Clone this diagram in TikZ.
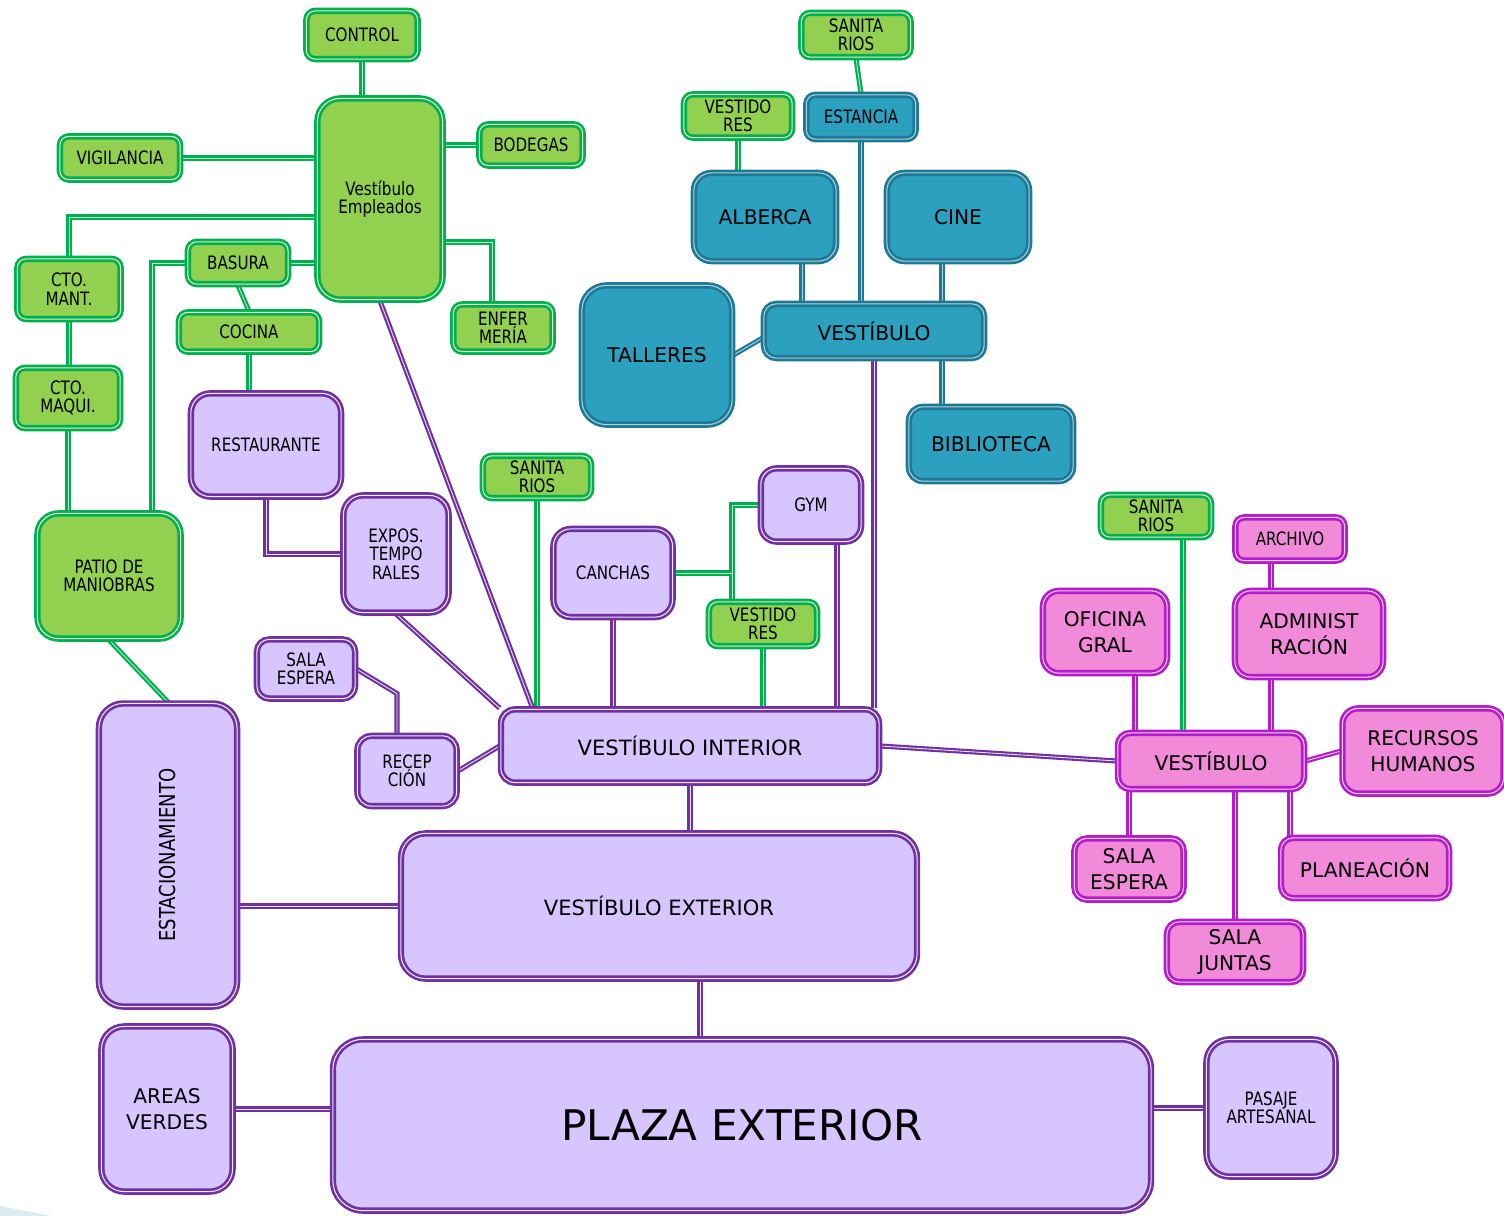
\documentclass[tikz,border=0pt]{standalone}
\usepackage{fontspec}
\setmainfont{DejaVu Sans}
\newfontfamily\narrowfont{DejaVu Sans}[FakeStretch=0.82]
\usepackage{xcolor}
\usetikzlibrary{calc,backgrounds}
\definecolor{grnfill}{HTML}{92D050}
\definecolor{grnline}{HTML}{00B050}
\definecolor{bluefill}{HTML}{2BA1BF}
\definecolor{blueline}{HTML}{217895}
\definecolor{lilfill}{HTML}{D6C5FF}
\definecolor{lilline}{HTML}{7030A0}
\definecolor{pinkfill}{HTML}{F18AD8}
\definecolor{pinkline}{HTML}{B21CCB}
\definecolor{cornerfill}{HTML}{DCEBF0}
\newcommand{\tinylbl}{\narrowfont\fontsize{10.5}{10.5}\selectfont}
\newcommand{\midlbl}{\fontsize{11.5}{15}\selectfont}
\newcommand{\biglbl}{\fontsize{12}{15}\selectfont}
\newcommand{\plazalbl}{\fontsize{24}{28}\selectfont}

\begin{document}
\begin{tikzpicture}[
    x=0.02cm, y=-0.02cm,
    box/.style={rectangle, align=center, inner sep=1pt, line width=1.5pt,
      double distance=0.6pt, rounded corners=5pt, font=\tinylbl, text=black},
    gbox/.style={box, draw=grnline, double=grnfill!30!white, fill=grnfill},
    bbox/.style={box, draw=blueline, double=bluefill!45!white, fill=bluefill, font=\midlbl},
    lbox/.style={box, draw=lilline, double=lilfill!40!white, fill=lilfill},
    pbox/.style={box, draw=pinkline, double=pinkfill!40!white, fill=pinkfill, font=\midlbl},
    sz/.style 2 args={minimum width=#1cm-1pt, minimum height=#2cm-1pt},
    gwire/.style={draw=grnline, double=grnline!30!white, line width=1.2pt, double distance=0.5pt},
    bwire/.style={draw=blueline, double=bluefill!40!white, line width=1.2pt, double distance=0.5pt},
    lwire/.style={draw=lilline, double=lilfill!50!white, line width=1.2pt, double distance=0.5pt},
    pwire/.style={draw=pinkline, double=pinkfill!40!white, line width=1.2pt, double distance=0.5pt},
  ]
  \useasboundingbox (0,0) rectangle (1504,1216);

  % ================= green: service areas
  \node[gbox, sz={2.26}{1.0}] (control) at (362,35) {CONTROL};
  \node[gbox, sz={2.54}{4.06}, rounded corners=13pt] (vemp) at (380,199) {Vestíbulo\\Empleados};
  \node[gbox, sz={2.44}{0.9}] (vigil) at (120,158) {VIGILANCIA};
  \node[gbox, sz={2.1}{0.86}] (bodegas) at (531,145) {BODEGAS};
  \node[gbox, sz={2.1}{1.24}] (ctomant) at (69,289) {CTO.\\MANT.};
  \node[gbox, sz={2.04}{0.88}] (basura) at (238,263) {BASURA};
  \node[gbox, sz={2.84}{0.82}] (cocina) at (249,332) {COCINA};
  \node[gbox, sz={2.02}{0.98}] (enfer) at (503,328) {ENFER\\MERÍA};
  \node[gbox, sz={2.12}{1.24}] (ctomaq) at (68,398) {CTO.\\MAQUI.};
  \node[gbox, sz={2.9}{2.54}, rounded corners=12pt] (patio) at (109,576) {PATIO DE\\MANIOBRAS};
  \node[gbox, sz={2.22}{0.92}] (sanA) at (856,35) {SANITA\\RIOS};
  \node[gbox, sz={2.2}{0.9}] (vestA) at (738,116) {VESTIDO\\RES};
  \node[gbox, sz={2.2}{0.88}] (sanB) at (537,477) {SANITA\\RIOS};
  \node[gbox, sz={2.2}{0.92}] (vestB) at (763,624) {VESTIDO\\RES};
  \node[gbox, sz={2.24}{0.88}] (sanC) at (1156,516) {SANITA\\RIOS};

  % ================= blue: recreation
  \node[bbox, sz={2.22}{0.92}, font=\tinylbl] (estancia) at (861,117) {ESTANCIA};
  \node[bbox, sz={2.88}{1.8}, rounded corners=10pt] (alberca) at (765,217) {ALBERCA};
  \node[bbox, sz={2.88}{1.8}, rounded corners=10pt] (cine) at (958,217) {CINE};
  \node[bbox, sz={3.04}{2.82}, rounded corners=14pt] (talleres) at (657,355) {TALLERES};
  \node[bbox, sz={4.44}{1.12}, rounded corners=7pt] (vestblue) at (874,331) {VESTÍBULO};
  \node[bbox, sz={3.32}{1.52}, rounded corners=8pt] (biblio) at (991,444) {BIBLIOTECA};

  % ================= lilac: public areas
  \node[lbox, sz={3.04}{2.1}, rounded corners=11pt] (rest) at (266,445) {RESTAURANTE};
  \node[lbox, sz={2.14}{2.38}, rounded corners=11pt] (expos) at (396,554) {EXPOS.\\TEMPO\\RALES};
  \node[lbox, sz={2.42}{1.8}, rounded corners=10pt] (canchas) at (613,573) {CANCHAS};
  \node[lbox, sz={2.04}{1.5}, rounded corners=9pt] (gym) at (811,505) {GYM};
  \node[lbox, sz={2.0}{1.22}, rounded corners=7pt] (salaA) at (306,669) {SALA\\ESPERA};
  \node[lbox, sz={2.02}{1.44}, rounded corners=8pt] (recep) at (407,771) {RECEP\\CIÓN};
  \node[lbox, sz={7.6}{1.5}, rounded corners=8pt, font=\biglbl] (vint) at (690,746) {VESTÍBULO INTERIOR};
  \node[lbox, sz={2.8}{6.1}, rounded corners=14pt,
    label={[rotate=90, font=\narrowfont\fontsize{12.5}{14}\selectfont]center:ESTACIONAMIENTO}] (estac) at (168,855) {};
  \node[lbox, sz={10.36}{2.94}, rounded corners=14pt, font=\biglbl] (vext) at (659,906) {VESTÍBULO EXTERIOR};
  \node[lbox, sz={2.66}{3.34}, rounded corners=13pt, font=\midlbl] (areas) at (167,1109) {AREAS\\VERDES};
  \node[lbox, sz={16.4}{3.46}, rounded corners=17pt, font=\plazalbl] (plaza) at (742,1125) {PLAZA EXTERIOR};
  \node[lbox, sz={2.62}{2.78}, rounded corners=13pt] (pasaje) at (1271,1108) {PASAJE\\ARTESANAL};

  % ================= pink: administration
  \node[pbox, sz={2.22}{0.9}, font=\tinylbl] (archivo) at (1290,539) {ARCHIVO};
  \node[pbox, sz={2.52}{1.68}, rounded corners=9pt] (oficina) at (1105,632) {OFICINA\\GRAL};
  \node[pbox, sz={3.0}{1.76}, rounded corners=9pt] (admin) at (1309,634) {ADMINIST\\RACIÓN};
  \node[pbox, sz={3.76}{1.16}, rounded corners=7pt] (vestpink) at (1211,761) {VESTÍBULO};
  \node[pbox, sz={3.26}{1.74}, rounded corners=9pt] (recursos) at (1423,751) {RECURSOS\\HUMANOS};
  \node[pbox, sz={2.22}{1.26}, rounded corners=7pt] (salaB) at (1129,869) {SALA\\ESPERA};
  \node[pbox, sz={3.4}{1.24}, rounded corners=7pt] (planea) at (1365,868) {PLANEACIÓN};
  \node[pbox, sz={2.76}{1.24}, rounded corners=7pt] (juntas) at (1235,952) {SALA\\JUNTAS};

  % helper points where a wire leaves off-centre
  \coordinate (patiotop) at ($(patio.north)+(43,0)$);
  \coordinate (enfertop) at ($(enfer.north)+(-11,0)$);
  \coordinate (gymjoin) at ($(vestB.north)+(-31,0)$);
  \coordinate (sanCfoot) at ($(sanC.south)+(27,0)$);
  \coordinate (albfoot) at ($(alberca.south)+(37,0)$);
  \coordinate (cinefoot) at ($(cine.south)+(-16,0)$);
  \coordinate (bibtop) at ($(biblio.north)+(-49,0)$);
  \coordinate (vintnw) at ($(vint.north west)+(33,0)$);
  \coordinate (gymfoot) at ($(gym.south)+(26,0)$);
  \coordinate (salabend) at ($(recep.north)+(-10,-41)$);
  \coordinate (vextfoot) at ($(vext.south)+(41,0)$);
  \coordinate (oficfoot) at ($(oficina.south)+(30,0)$);
  \coordinate (admx) at ($(admin.south)+(-38,0)$);
  \coordinate (planx) at ($(planea.north)+(-75,0)$);

  \begin{scope}[on background layer]
    \fill[cornerfill] (0,1206) -- (52,1216) -- (0,1216) -- cycle;
    % green wires
    \draw[gwire] (control.south) -- (control.south |- vemp.north);
    \draw[gwire] (vigil.east) -- (vigil.east -| vemp.west);
    \draw[gwire] (bodegas.west) -- (bodegas.west -| vemp.east);
    \draw[gwire] ($(vemp.west)+(0,18)$) -| (ctomant.north);
    \draw[gwire] (basura.east) -- (basura.east -| vemp.west);
    \draw[gwire] (basura.west) -| (patiotop);
    \draw[gwire] (basura.south) -- (cocina.north);
    \draw[gwire] (cocina.south) -- (cocina.south |- rest.north);
    \draw[gwire] ($(vemp.east)+(0,43)$) -| (enfertop);
    \foreach \a/\b in {ctomant/ctomaq, ctomaq/patio, vestA/alberca, sanB/vint, vestB/vint}
      \draw[gwire] (\a.south) -- (\a.south |- \b.north);
    \draw[gwire] (patio.south) -- (estac.north);
    \draw[gwire] (sanA.south) -- (estancia.north);
    \draw[gwire] (gym.west) -| (gymjoin);
    \draw[gwire] (canchas.east) -- (canchas.east -| gymjoin);
    \draw[gwire] (sanCfoot) -- (sanCfoot |- vestpink.north);
    % blue wires
    \draw[bwire] (albfoot) -- (albfoot |- vestblue.north);
    \draw[bwire] (estancia.south) -- (estancia.south |- vestblue.north);
    \draw[bwire] (cinefoot) -- (cinefoot |- vestblue.north);
    \draw[bwire] (talleres.east) -- ($(vestblue.west)+(0,7)$);
    \draw[bwire] (bibtop |- vestblue.south) -- (bibtop);
    % lilac wires
    \draw[lwire] (vemp.south) -- (vintnw);
    \draw[lwire] (vestblue.south) -- (vestblue.south |- vint.north);
    \draw[lwire] (rest.south) |- (expos.west);
    \draw[lwire] (expos.south) -- (vint.north west);
    \draw[lwire] (canchas.south) -- (canchas.south |- vint.north);
    \draw[lwire] (gymfoot) -- (gymfoot |- vint.north);
    \draw[lwire] (salaA.east) -- (salabend) -- (salabend |- recep.north);
    \draw[lwire] (recep.east) -- (vint.west);
    \draw[lwire] (vint.east) -- (vestpink.west);
    \draw[lwire] (vint.south) -- (vint.south |- vext.north);
    \draw[lwire] (vext.west) -- (vext.west -| estac.east);
    \draw[lwire] (vextfoot) -- (vextfoot |- plaza.north);
    \draw[lwire] (areas.east) -- (areas.east -| plaza.west);
    \draw[lwire] (pasaje.west) -- (pasaje.west -| plaza.east);
    % pink wires
    \draw[pwire] (oficfoot) -- (oficfoot |- vestpink.north);
    \draw[pwire] (admx |- archivo.south) -- (admx |- admin.north);
    \draw[pwire] (admx) -- (admx |- vestpink.north);
    \draw[pwire] (vestpink.east) -- (recursos.west);
    \foreach \b in {salaB, juntas}
      \draw[pwire] (\b.north) -- (\b.north |- vestpink.south);
    \draw[pwire] (planx) -- (planx |- vestpink.south);
  \end{scope}
\end{tikzpicture}
\end{document}
